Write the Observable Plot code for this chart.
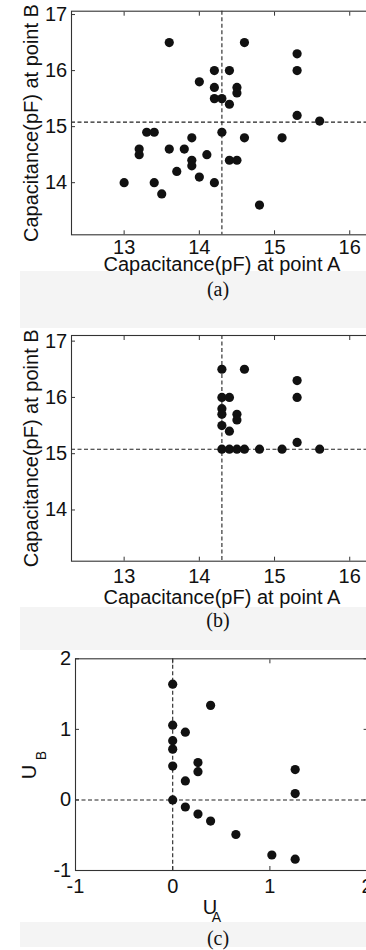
<!DOCTYPE html>
<html>
<head>
<meta charset="utf-8">
<script src="https://cdn.jsdelivr.net/npm/d3@7"></script>
<script src="https://cdn.jsdelivr.net/npm/@observablehq/plot@0.6"></script>
<style>
html,body{margin:0;padding:0;background:#fff;}
#root{position:relative;width:366px;height:950px;overflow:hidden;background:#fff;}
.band{position:absolute;left:20px;width:346px;background:#f4f4f4;}
.cap{position:absolute;left:0;width:436px;text-align:center;font-family:"Liberation Serif","Times New Roman",serif;font-size:20px;color:#111;line-height:20px;}
.panel{position:absolute;left:0;}
</style>
</head>
<body>
<div id="root">
  <div class="band" style="top:271px;height:57px;"></div>
  <div class="band" style="top:607px;height:43px;"></div>
  <div class="band" style="top:922px;height:25px;"></div>
  <div id="pa" class="panel" style="top:0px;"></div>
  <div id="pb" class="panel" style="top:324px;"></div>
  <div id="pc" class="panel" style="top:647px;"></div>
  <div class="cap" style="top:279px;">(a)</div>
  <div class="cap" style="top:610px;">(b)</div>
  <div class="cap" style="top:928px;">(c)</div>
</div>
<script>
// Panel (a): capacitance at point A vs point B
const capA = [13.0,13.2,13.2,13.3,13.4,13.4,13.5,13.6,13.6,13.7,13.8,13.9,13.9,13.9,14.0,14.0,14.1,14.2,14.2,14.2,14.2,14.3,14.3,14.4,14.4,14.4,14.5,14.5,14.5,14.6,14.6,14.8,15.1,15.3,15.3,15.3,15.6];
const capB = [14.0,14.5,14.6,14.9,14.9,14.0,13.8,14.6,16.5,14.2,14.6,14.8,14.4,14.3,15.8,14.1,14.5,16.0,15.7,15.5,14.0,15.5,14.9,16.0,15.4,14.4,15.7,15.6,14.4,16.5,14.8,13.6,14.8,16.3,16.0,15.2,15.1];
// Panel (b): thresholded values
const capAb = [14.3,14.3,14.3,14.3,14.3,14.3,14.4,14.4,14.4,14.5,14.5,14.5,14.6,14.6,14.8,15.1,15.3,15.3,15.3,15.6];
const capBb = [16.5,16.0,15.8,15.7,15.5,15.08,16.0,15.4,15.08,15.7,15.6,15.08,16.5,15.08,15.08,15.08,16.3,16.0,15.2,15.08];
// Panel (c): normalized U_A vs U_B
const uA = [0,0.39,0,0.13,0,0,0,0.26,0.26,0.13,1.26,1.26,0,0.13,0.26,0.39,0.65,1.02,1.26];
const uB = [1.64,1.34,1.06,0.96,0.84,0.72,0.48,0.53,0.40,0.27,0.43,0.09,0,-0.10,-0.20,-0.30,-0.49,-0.78,-0.84];
// Thresholds
const threshA = 14.3, threshB = 15.08;
// Ticks
const capTicksX = [13,14,15,16];
const capTicksY = [14,15,16,17];
const uTicks = [-1,0,1,2];
const titleA = "Capacitance(pF) at point A";
const titleB = "Capacitance(pF) at point B";

const FONT = "'Liberation Sans', Arial, Helvetica, sans-serif";
const INK = "#111";
const FRAME = "#333";

function panel(o) {
  const data = o.xs.map((x, i) => ({x, y: o.ys[i]}));
  const marks = [
    Plot.ruleX([o.vx], {stroke: "#222", strokeWidth: 1.1, strokeDasharray: "4,2.5"}),
    Plot.ruleY([o.hy], {stroke: "#222", strokeWidth: 1.1, strokeDasharray: "4,2.5"}),
    Plot.frame({stroke: FRAME, strokeWidth: 1.1}),
    Plot.axisX(o.xTicks, {anchor: "bottom", tickSize: -4, tickPadding: o.xPad, tickFormat: d => String(d), label: null, stroke: FRAME, fill: INK, fontSize: 20}),
    Plot.axisX(o.xTicks, {anchor: "top", tickSize: -4, tickFormat: () => "", label: null, stroke: FRAME}),
    Plot.axisY(o.yTicks, {anchor: "left", tickSize: -4, tickPadding: 8.3, tickFormat: d => String(d), label: null, stroke: FRAME, fill: INK, fontSize: 20}),
    Plot.axisY(o.yTicks, {anchor: "right", tickSize: -4, tickFormat: () => "", label: null, stroke: FRAME}),
    Plot.dot(data, {x: "x", y: "y", r: 4.6, fill: INK, stroke: null}),
    ...o.extra
  ];
  return Plot.plot({
    width: 420, height: o.height,
    marginTop: o.mt, marginBottom: o.mb, marginLeft: o.ml, marginRight: o.mr,
    style: {background: "transparent", maxWidth: "none", overflow: "visible", fontFamily: FONT, fontSize: "20px", color: INK},
    x: {domain: o.xDomain},
    y: {domain: o.yDomain},
    marks
  });
}

document.getElementById("pa").append(panel({
  xs: capA, ys: capB, vx: threshA, hy: threshB,
  xTicks: capTicksX, yTicks: capTicksY, xPad: 9,
  xDomain: [12.3, 16.3], yDomain: [13.07, 17.06],
  height: 300, mt: 10.7, mb: 65.7, ml: 71, mr: 48.2,
  extra: [
    Plot.text([titleA], {frameAnchor: "bottom", textAnchor: "middle", dy: 36, lineAnchor: "bottom", fontSize: 20, fill: INK}),
    Plot.text([titleB], {frameAnchor: "left", textAnchor: "middle", dx: -34, rotate: -90, lineAnchor: "bottom", fontSize: 20, fill: INK})
  ]
}));

document.getElementById("pb").append(panel({
  xs: capAb, ys: capBb, vx: threshA, hy: threshB,
  xTicks: capTicksX, yTicks: capTicksY, xPad: 11.6,
  xDomain: [12.3, 16.3], yDomain: [13.09, 17.1],
  height: 300, mt: 11, mb: 63.3, ml: 71, mr: 48.2,
  extra: [
    Plot.text([titleA], {frameAnchor: "bottom", textAnchor: "middle", dy: 42.6, lineAnchor: "bottom", fontSize: 20, fill: INK}),
    Plot.text([titleB], {frameAnchor: "left", textAnchor: "middle", dx: -34, rotate: -90, lineAnchor: "bottom", fontSize: 20, fill: INK})
  ]
}));

document.getElementById("pc").append(panel({
  xs: uA, ys: uB, vx: 0, hy: 0,
  xTicks: uTicks, yTicks: uTicks, xPad: 12.3,
  xDomain: [-1, 2], yDomain: [-1, 2],
  height: 300, mt: 11.3, mb: 77, ml: 75, mr: 53.4,
  extra: [
    Plot.text(["U"], {frameAnchor: "bottom", textAnchor: "middle", dx: -11.3, dy: 43.3, lineAnchor: "bottom", fontSize: 20, fill: INK}),
    Plot.text(["A"], {frameAnchor: "bottom", textAnchor: "middle", dx: -4.8, dy: 51.7, lineAnchor: "bottom", fontSize: 14, fill: INK}),
    Plot.text(["U"], {frameAnchor: "left", textAnchor: "middle", dx: -40, dy: 7.5, rotate: -90, lineAnchor: "bottom", fontSize: 20, fill: INK}),
    Plot.text(["B"], {frameAnchor: "left", textAnchor: "middle", dx: -30, dy: -9, rotate: -90, lineAnchor: "bottom", fontSize: 14, fill: INK})
  ]
}));
</script>
</body>
</html>
